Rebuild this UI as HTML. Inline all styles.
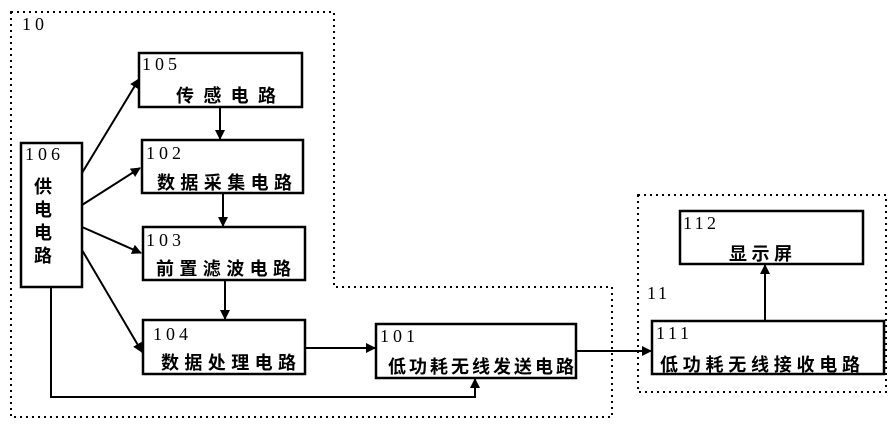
<!DOCTYPE html>
<html><head><meta charset="utf-8"><style>
body{margin:0;background:#fff;}
svg text{font-family:"Liberation Serif","Noto Serif CJK SC",serif;fill:#000;}
.c{font-family:"Liberation Sans","Noto Sans CJK SC",sans-serif;font-size:18px;font-weight:bold;}
.n{font-size:18px;}
</style></head><body>
<svg width="892" height="429" viewBox="0 0 892 429" xmlns="http://www.w3.org/2000/svg">
<defs><marker id="a" markerWidth="10" markerHeight="10" refX="9" refY="5" orient="auto" markerUnits="userSpaceOnUse"><path d="M0,0 L10,5 L0,10 z" fill="#000"/></marker></defs>
<g fill="none" stroke="#000" stroke-width="2" stroke-dasharray="2,4">
<path d="M11,12 H334 V287 H612 V417 H11 Z"/>
<rect x="638" y="195" width="248" height="197"/>
</g>
<g fill="#fff" stroke="#000" stroke-width="2.5">
<rect x="139" y="53" width="163" height="54"/>
<rect x="142" y="140" width="161" height="53"/>
<rect x="143" y="227" width="162" height="53"/>
<rect x="143" y="320" width="162" height="54"/>
<rect x="21" y="143" width="61" height="144"/>
<rect x="376" y="324" width="200" height="54"/>
<rect x="680" y="211" width="183" height="53"/>
<rect x="652" y="321" width="232" height="53"/>
</g>
<g stroke="#000" stroke-width="2" fill="none" marker-end="url(#a)">
<line x1="82" y1="173" x2="139" y2="79"/>
<line x1="82" y1="205" x2="140" y2="168"/>
<line x1="82" y1="227" x2="141" y2="253"/>
<line x1="82" y1="250" x2="142" y2="352"/>
<line x1="220" y1="107" x2="220" y2="139"/>
<line x1="223" y1="193" x2="223" y2="226"/>
<line x1="225" y1="280" x2="225" y2="319"/>
<line x1="305" y1="348" x2="375" y2="348"/>
<polyline points="51,287 51,397 475,397 475,379"/>
<line x1="576" y1="351" x2="651" y2="351"/>
<line x1="765" y1="321" x2="765" y2="265"/>
</g>
<text class="n" x="22" y="30" textLength="22">10</text>
<text class="n" x="142" y="70" textLength="35">105</text>
<text class="c" x="176" y="102" textLength="100">传感电路</text>
<text class="n" x="146" y="159" textLength="35">102</text>
<text class="c" x="157" y="189" textLength="135">数据采集电路</text>
<text class="n" x="146" y="246" textLength="35">103</text>
<text class="c" x="156" y="275" textLength="135">前置滤波电路</text>
<text class="n" x="153" y="340" textLength="35">104</text>
<text class="c" x="161" y="369" textLength="135">数据处理电路</text>
<text class="n" x="25" y="160" textLength="35">106</text>
<text class="c" x="34" y="193">供</text>
<text class="c" x="34" y="216">电</text>
<text class="c" x="34" y="239">电</text>
<text class="c" x="34" y="262">路</text>
<text class="n" x="380" y="342" textLength="35">101</text>
<text class="c" x="388" y="373" textLength="186">低功耗无线发送电路</text>
<text class="n" x="683" y="229" textLength="33">112</text>
<text class="c" x="729" y="260" textLength="63">显示屏</text>
<text class="n" x="647" y="299" textLength="20">11</text>
<text class="n" x="656" y="339" textLength="33">111</text>
<text class="c" x="660" y="371" textLength="200">低功耗无线接收电路</text>
</svg>
</body></html>
